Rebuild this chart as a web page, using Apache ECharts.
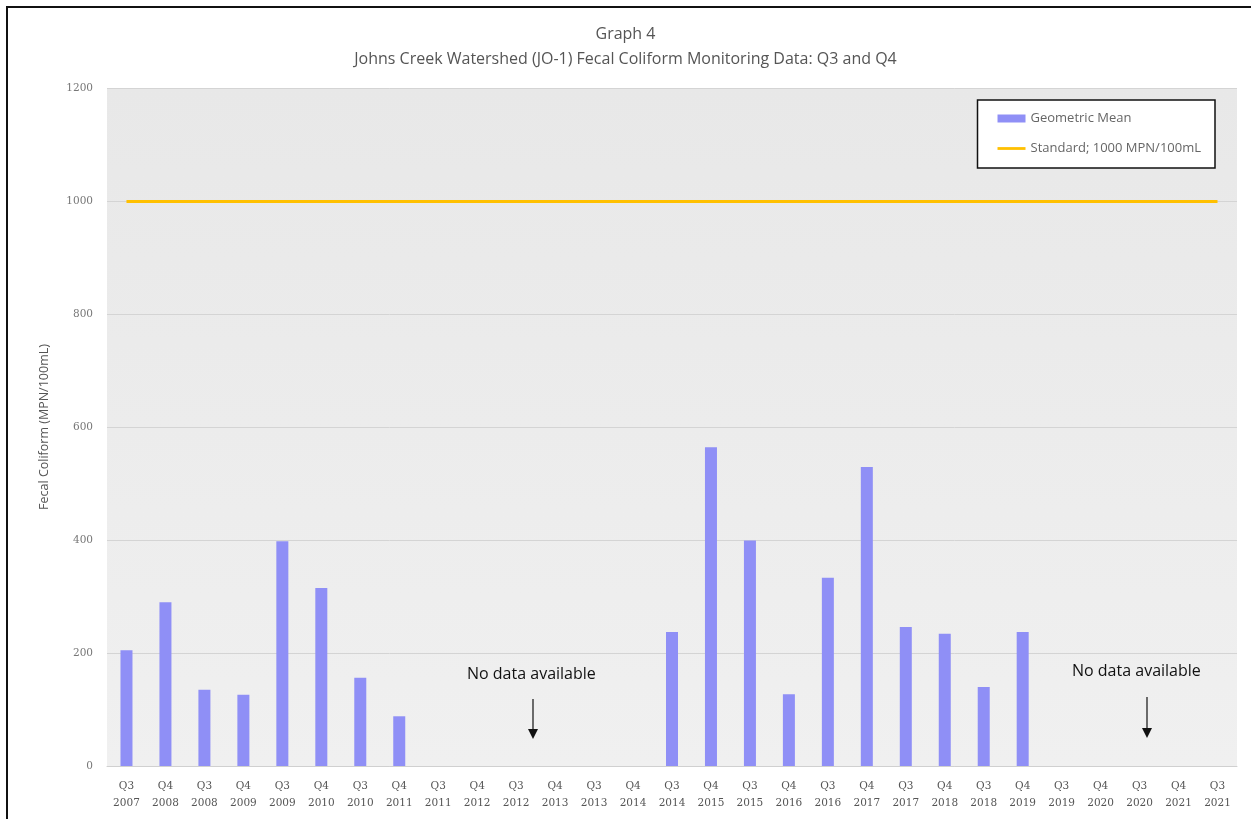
<!DOCTYPE html>
<html>
<head>
<meta charset="utf-8">
<title>Graph 4</title>
<script src="https://cdn.jsdelivr.net/npm/echarts@6/dist/echarts.min.js"></script>
<style>
  html, body { margin: 0; padding: 0; background: #fff; }
  #frame {
    position: absolute; left: 6px; top: 6px; width: 1245px; height: 813px;
    border-left: 2px solid #111; border-top: 2px solid #111;
    box-sizing: border-box;
  }
  #chart { position: absolute; left: 0; top: 0; width: 1251px; height: 819px; }
</style>
</head>
<body>
<div id="chart"></div>
<div id="frame"></div>
<script>
const quarters = ['Q3', 'Q4', 'Q3', 'Q4', 'Q3', 'Q4', 'Q3', 'Q4', 'Q3', 'Q4', 'Q3', 'Q4', 'Q3', 'Q4', 'Q3',
  'Q4', 'Q3', 'Q4', 'Q3', 'Q4', 'Q3', 'Q4', 'Q3', 'Q4', 'Q3', 'Q4', 'Q3', 'Q4', 'Q3']
const years = ['2007', '2008', '2008', '2009', '2009', '2010', '2010', '2011', '2011', '2012', '2012', '2013', '2013', '2014', '2014',
  '2015', '2015', '2016', '2016', '2017', '2017', '2018', '2018', '2019', '2019', '2020', '2020', '2021', '2021']
// geometric mean, '-' = no data
const geoMean = [205, 290, 135, 126, 398, 315, 156, 88, '-', '-', '-', '-', '-', '-', 237,
  564, 399, 127, 333, 529, 246, 234, 140, 237, '-', '-', '-', '-', '-']
const STANDARD = 1000
const yTicks = [0, 200, 400, 600, 800, 1000, 1200]

const categories = quarters.map((q, i) => q + '\n' + years[i])

const chart = echarts.init(document.getElementById('chart'))

const txt = '#555'
const font = "'Open Sans', 'Noto Sans', sans-serif"

chart.setOption({
  backgroundColor: '#fff',
  animation: false,
  title: {
    text: 'Graph 4\nJohns Creek Watershed (JO-1) Fecal Coliform Monitoring Data: Q3 and Q4',
    left: 'center',
    top: 17,
    textStyle: {
      color: '#555',
      fontFamily: font,
      fontSize: 16,
      fontWeight: 'normal',
      lineHeight: 25
    }
  },
  grid: {
    left: 107,
    right: 14,
    top: 88,
    bottom: 53,
    show: true,
    borderWidth: 0,
    backgroundColor: new echarts.graphic.LinearGradient(0, 0, 0, 1, [
      { offset: 0, color: '#e8e8e8' },
      { offset: 1, color: '#f0f0f0' }
    ])
  },
  legend: {
    right: 36,
    top: 100,
    orient: 'vertical',
    itemGap: 17,
    itemWidth: 28,
    itemHeight: 8,
    padding: [12, 14, 13, 20],
    backgroundColor: '#fff',
    borderColor: '#111',
    borderWidth: 1.5,
    textStyle: { color: '#666', fontFamily: font, fontSize: 13 },
    data: [
      { name: 'Geometric Mean', icon: 'rect' },
      { name: 'Standard; 1000 MPN/100mL', icon: 'path://M0,0 L30,0 L30,3 L0,3 Z' }
    ]
  },
  xAxis: {
    type: 'category',
    data: categories,
    axisLine: { lineStyle: { color: '#d0d0d0' } },
    axisTick: { show: false },
    axisLabel: {
      color: txt,
      fontFamily: 'DejaVu Serif, serif',
      fontSize: 10.5,
      lineHeight: 17,
      margin: 12,
      interval: 0
    }
  },
  yAxis: {
    type: 'value',
    min: 0,
    max: 1200,
    interval: 200,
    name: 'Fecal Coliform (MPN/100mL)',
    nameLocation: 'middle',
    nameGap: 56,
    nameTextStyle: { color: txt, fontFamily: font, fontSize: 12.5 },
    axisLine: { show: false },
    axisTick: { show: false },
    axisLabel: {
      color: '#777',
      fontFamily: 'DejaVu Serif, serif',
      fontSize: 10.5,
      margin: 14,
      formatter: v => (yTicks.includes(v) ? String(v) : '')
    },
    splitLine: { lineStyle: { color: '#d4d4d4', width: 1 } }
  },
  series: [
    {
      name: 'Geometric Mean',
      type: 'bar',
      data: geoMean,
      barWidth: 12,
      itemStyle: { color: '#8f8ff6' }
    },
    {
      name: 'Standard; 1000 MPN/100mL',
      type: 'line',
      data: [],
      symbol: 'none',
      lineStyle: { color: '#ffc000', width: 3 },
      itemStyle: { color: '#ffc000' },
      markLine: {
        silent: true,
        symbol: 'none',
        label: { show: false },
        lineStyle: { color: '#ffc000', width: 3, type: 'solid' },
        data: [[
          { coord: [categories[0], STANDARD] },
          { coord: [categories[categories.length - 1], STANDARD] }
        ]]
      }
    }
  ],
  graphic: [
    {
      type: 'text',
      left: 467,
      top: 666,
      style: { text: 'No data available', fill: '#111', font: "500 16px 'Open Sans', sans-serif" }
    },
    { type: 'line', shape: { x1: 533, y1: 699, x2: 533, y2: 730 }, style: { stroke: '#111', lineWidth: 1.2 } },
    { type: 'polygon', shape: { points: [[528, 729], [538, 729], [533, 739]] }, style: { fill: '#111' } },
    {
      type: 'text',
      left: 1072,
      top: 663,
      style: { text: 'No data available', fill: '#111', font: "500 16px 'Open Sans', sans-serif" }
    },
    { type: 'line', shape: { x1: 1147, y1: 697, x2: 1147, y2: 729 }, style: { stroke: '#111', lineWidth: 1.2 } },
    { type: 'polygon', shape: { points: [[1142, 728], [1152, 728], [1147, 738]] }, style: { fill: '#111' } }
  ]
})
</script>
</body>
</html>
